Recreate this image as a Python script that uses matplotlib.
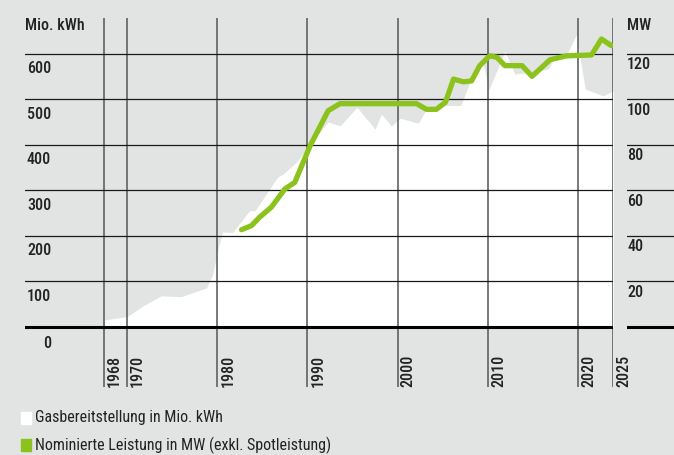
import matplotlib
matplotlib.use('Agg')
import matplotlib.pyplot as plt
from matplotlib.patches import Rectangle

plt.rcParams['font.family'] = ['Roboto Condensed', 'DejaVu Sans']

# Gasbereitstellung (Mio. kWh)
gas_years = [1967.5, 1970, 1971.8, 1973.8, 1976, 1978.8, 1979.5, 1980.2, 1980.6, 1981.7,
             1983.6, 1984.2, 1986.7, 1987.3, 1988.8, 1990.3, 1992.3, 1993.6, 1995.5,
             1997.5, 1998.2, 1999.3, 2000.3, 2002.3, 2003.2, 2004.7, 2006.2, 2007.0,
             2008.0, 2009.4, 2010.1, 2011.9, 2013.0, 2014.7, 2016.7, 2017.3, 2018.7,
             2019.8, 2020.8, 2022.8, 2023.9]
gas = [15, 22, 46, 68, 66, 85, 115, 180, 208, 207,
       255, 255, 329, 335, 362, 401, 450, 441, 482,
       434, 467, 441, 458, 447, 478, 486, 486, 486,
       537, 588, 520, 605, 555, 559, 566, 588, 596,
       641, 522, 507, 518]

# Nominierte Leistung (MW)
mw_years = [1982.7, 1983.8, 1984.7, 1986.0, 1987.5, 1988.6, 1990.3, 1992.3, 1993.6,
            2002.1, 2003.2, 2004.3, 2005.3, 2006.2, 2007.3, 2008.2, 2009.1, 2010.2,
            2011.0, 2011.9, 2013.8, 2014.9, 2016.9, 2018.7, 2021.5, 2022.6, 2023.7]
mw = [42.6, 44.4, 48.1, 52.5, 60.5, 63.4, 79.5, 94.9, 98.0,
      98.0, 95.5, 95.5, 98.6, 108.8, 107.6, 108.0, 114.7, 119.0,
      118.4, 114.7, 114.7, 110.0, 117.3, 119.0, 119.4, 126.4, 123.5]

left_ticks = [0, 100, 200, 300, 400, 500, 600]
right_ticks = [20, 40, 60, 80, 100, 120]
year_pos = [1967.45, 1970, 1980, 1990, 2000, 2010, 2020, 2023.88]
year_labels = ['1968', '1970', '1980', '1990', '2000', '2010', '2020', '2025']

bg = '#e2e3e3'
green = '#8cc21c'
txt = '#222222'
fs = 11.5

fig = plt.figure(figsize=(6.74, 4.56), dpi=100, facecolor=bg)
W, H = 674, 456
ax = fig.add_axes([25 / W, (H - 388) / H, (613 - 25) / W, (388 - 19) / H])
ax.set_facecolor('none')
ax.set_xlim(1958.69, 2023.88)
ax.set_ylim(-132.5, 678.2)
ax.axis('off')

ax.fill_between(gas_years, 0, gas, color='white', lw=0, zorder=1)

for p in year_pos:
    ax.axvline(p, color='#555555', lw=1.1, zorder=2)
for v in left_ticks[1:]:
    ax.axhline(v, color='#1a1a1a', lw=0.9, zorder=2)
ax.axhline(0, color='black', lw=2.2, zorder=3)

ax.plot(mw_years, [m * 5 for m in mw], color=green, lw=3.8,
        solid_capstyle='round', solid_joinstyle='round', zorder=4)

for v in left_ticks:
    off = 35 if v == 0 else 31
    ax.text(1961.6, v - off, str(v), ha='right', va='center', fontsize=fs,
            fontweight='medium', color=txt)
ax.text(0, 663, 'Mio. kWh', transform=ax.get_yaxis_transform(), ha='left', va='center',
        fontsize=fs, fontweight='medium', color=txt)

for p, lab in zip(year_pos, year_labels):
    ax.text(p + 0.35, -60, lab, rotation=90, ha='left', va='top', fontsize=fs,
            fontweight='medium', color=txt)

# rechte Achse (MW)
ax2 = fig.add_axes([627 / W, (H - 388) / H, (W - 627) / W, (388 - 19) / H])
ax2.set_facecolor('none')
ax2.set_xlim(0, 1)
ax2.set_ylim(-132.5 / 5, 678.2 / 5)
ax2.axis('off')
for m in right_ticks:
    ax2.axhline(m, color='#1a1a1a', lw=0.9)
    ax2.text(0, m - 4.4, str(m), ha='left', va='center', fontsize=fs,
             fontweight='medium', color=txt)
ax2.axhline(0, color='black', lw=2.2)
ax2.text(0, 132.8, 'MW', ha='left', va='center', fontsize=fs, fontweight='medium', color=txt)

# Legende
fig.patches.append(Rectangle((20.5 / W, 1 - 425 / H), 10 / W, 12.5 / H,
                             transform=fig.transFigure, color='white', figure=fig))
fig.patches.append(Rectangle((20.5 / W, 1 - 452 / H), 10 / W, 12.5 / H,
                             transform=fig.transFigure, color=green, figure=fig))
fig.text(35 / W, 1 - 418 / H, 'Gasbereitstellung in Mio. kWh', ha='left', va='center',
         fontsize=fs, color=txt)
fig.text(35 / W, 1 - 445 / H, 'Nominierte Leistung in MW (exkl. Spotleistung)', ha='left',
         va='center', fontsize=fs, color=txt)

fig.savefig('out.png', dpi=100, facecolor=bg)
